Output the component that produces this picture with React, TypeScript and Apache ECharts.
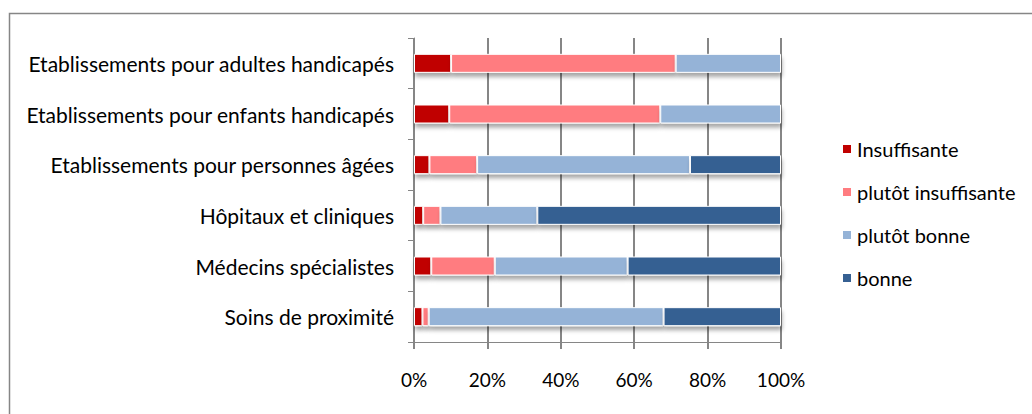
import React, { useEffect, useRef } from "react";
import * as echarts from "echarts";

const categories = [
  "Etablissements pour adultes handicapés",
  "Etablissements pour enfants handicapés",
  "Etablissements pour personnes âgées",
  "Hôpitaux et cliniques",
  "Médecins spécialistes",
  "Soins de proximité",
];

const seriesNames = ["Insuffisante", "plutôt insuffisante", "plutôt bonne", "bonne"];
const insuffisante = [10.1, 9.6, 4.2, 2.5, 4.7, 2.3];
const plutotInsuffisante = [61.2, 57.5, 13.0, 4.7, 17.3, 1.7];
const plutotBonne = [28.7, 32.9, 58.0, 26.4, 36.2, 64.0];
const bonne = [0, 0, 24.8, 66.4, 41.8, 32.0];
const colors = ["#C00000", "#FF7C80", "#95B3D7", "#366092"];
const xTicks = [0, 20, 40, 60, 80, 100];

const FONT = "Lato";
const GRAY = "#868686";

export default function App() {
  const ref = useRef<HTMLDivElement>(null);
  useEffect(() => {
    if (!ref.current) return;
    const chart = echarts.init(ref.current, undefined, { renderer: "svg" });
    const values = [insuffisante, plutotInsuffisante, plutotBonne, bonne];
    chart.setOption({
      animation: false,
      backgroundColor: "#ffffff",
      graphic: [
        {
          type: "rect",
          shape: { x: 9.5, y: 13.5, width: 1040, height: 420 },
          style: { fill: "none", stroke: GRAY, lineWidth: 1.5 },
          silent: true,
        },
      ],
      grid: { left: 414, right: 251, top: 38, bottom: 72, containLabel: false },
      legend: {
        orient: "vertical",
        left: 836,
        top: 134,
        itemWidth: 10,
        itemHeight: 10,
        itemGap: 23,
        icon: "rect",
        data: seriesNames,
        textStyle: { fontFamily: FONT, fontSize: 20, color: "#000" },
      },
      xAxis: {
        type: "value",
        min: xTicks[0],
        max: xTicks[xTicks.length - 1],
        interval: 20,
        axisLine: { show: true, lineStyle: { color: GRAY, width: 1 } },
        axisTick: { show: true, length: 7, lineStyle: { color: GRAY, width: 2 } },
        splitLine: { show: true, lineStyle: { color: GRAY, width: 2 } },
        axisLabel: {
          formatter: "{value}%",
          margin: 28,
          fontFamily: FONT,
          fontSize: 19,
          color: "#000",
        },
      },
      yAxis: {
        type: "category",
        inverse: true,
        data: categories,
        axisLine: { show: true, lineStyle: { color: GRAY, width: 1 } },
        axisTick: { show: true, length: 6, lineStyle: { color: GRAY, width: 1 } },
        axisLabel: {
          margin: 20,
          fontFamily: FONT,
          fontSize: 21,
          color: "#000",
        },
      },
      series: seriesNames.map((name, i) => ({
        name,
        type: "bar",
        stack: "total",
        barWidth: 19,
        data: values[i],
        itemStyle: {
          color: colors[i],
          borderColor: "#ffffff",
          borderWidth: 1,
          shadowColor: "rgba(0,0,0,0.35)",
          shadowBlur: 4,
          shadowOffsetY: 4,
          shadowOffsetX: 1,
        },
      })),
    });
    return () => chart.dispose();
  }, []);
  return (
    <div
      ref={ref}
      style={{ position: "absolute", left: 0, top: 0, width: 1032, height: 414 }}
    />
  );
}
